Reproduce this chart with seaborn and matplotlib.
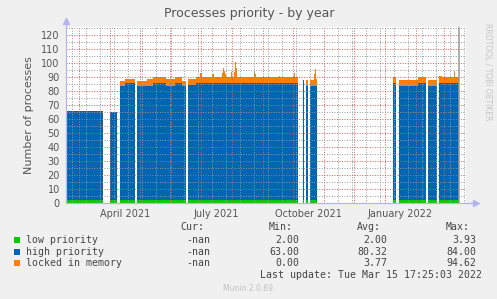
import numpy as np
import pandas as pd
import matplotlib
matplotlib.use("Agg")
import matplotlib.pyplot as plt
import matplotlib.dates as mdates
from matplotlib.patches import Rectangle
from matplotlib.ticker import MultipleLocator
import seaborn as sns

# ---------------- data (piecewise-constant runs) ----------------
run_start = ["2021-02-14", "2021-04-01", "2021-04-11", "2021-04-16",
             "2021-04-28", "2021-05-08", "2021-05-14", "2021-05-27", "2021-06-05", "2021-06-12",
             "2021-06-18", "2021-06-26", "2021-06-30", "2021-07-02", "2021-07-12", "2021-07-14",
             "2021-07-22", "2021-07-23", "2021-07-24", "2021-07-25", "2021-07-26", "2021-07-31",
             "2021-08-01", "2021-08-03", "2021-08-04", "2021-08-05", "2021-08-06", "2021-08-23",
             "2021-08-24", "2021-08-25", "2021-09-17", "2021-09-18", "2021-10-02", "2021-10-03",
             "2021-10-11", "2021-10-14", "2021-10-18", "2021-10-22", "2021-10-23", "2021-10-24",
             "2022-01-09", "2022-01-15", "2022-02-03", "2022-02-13",
             "2022-02-24", "2022-02-27", "2022-03-11", "2022-03-12"]
run_end = ["2021-03-25", "2021-04-08", "2021-04-16", "2021-04-26",
           "2021-05-08", "2021-05-14", "2021-05-27", "2021-06-05", "2021-06-12", "2021-06-16",
           "2021-06-26", "2021-06-30", "2021-07-02", "2021-07-12", "2021-07-14", "2021-07-22",
           "2021-07-23", "2021-07-24", "2021-07-25", "2021-07-26", "2021-07-31", "2021-08-01",
           "2021-08-03", "2021-08-04", "2021-08-05", "2021-08-06", "2021-08-23", "2021-08-24",
           "2021-08-25", "2021-09-17", "2021-09-18", "2021-10-02", "2021-10-03", "2021-10-06",
           "2021-10-12", "2021-10-16", "2021-10-22", "2021-10-23", "2021-10-24", "2021-10-25",
           "2022-01-12", "2022-02-03", "2022-02-11", "2022-02-22",
           "2022-02-27", "2022-03-11", "2022-03-12", "2022-03-15 17:25"]
low_priority = [2.0] * len(run_start)
high_priority = [64, 63, 82, 84,
                 82, 82, 84, 82, 84, 82,
                 82.5, 84, 84, 84, 84, 84,
                 84, 84, 84, 84, 84, 84,
                 84, 84, 84, 84, 84, 84,
                 84, 84, 84, 84, 84, 84,
                 86, 82, 82, 82, 82, 82,
                 84, 82, 84, 82,
                 84, 84, 84, 84]
locked_in_memory = [0, 0, 3.3, 3,
                    3.3, 4.5, 4, 4.5, 4, 3.5,
                    4, 4.3, 7.3, 4.3, 6, 4.3,
                    7, 10.4, 8.5, 6, 4.3, 8,
                    4.3, 8, 15, 11, 4.3, 8.7,
                    6, 4.3, 5, 4.3, 6.8, 4.3,
                    0, 4, 4, 8, 11.7, 5,
                    4, 4, 4, 4,
                    5, 4, 8.7, 4]

series_names = ["low priority", "high priority", "locked in memory"]
series_colors = ["#00CC00", "#0066B3", "#FF8000"]
stat_cur = ["-nan", "-nan", "-nan"]
stat_min = ["2.00", "63.00", "0.00"]
stat_avg = ["2.00", "80.32", "3.77"]
stat_max = ["3.93", "84.00", "94.62"]

month_label_dates = ["2021-04-16", "2021-07-16", "2021-10-16", "2022-01-16"]
month_labels = ["April 2021", "July 2021", "October 2021", "January 2022"]
y_ticks = list(range(0, 121, 10))

title = "Processes priority - by year"
ylabel = "Number of processes"
last_update = "Last update: Tue Mar 15 17:25:03 2022"
now_marker = "2022-03-15 17:25"

# ---------------- build stacked outlines ----------------
xs = []
layers = [[], [], []]
prev_end = None
for s, e, l, h, k in zip(run_start, run_end, low_priority, high_priority, locked_in_memory):
    s = pd.Timestamp(s); e = pd.Timestamp(e)
    if prev_end is not None and s != prev_end:
        xs.append(prev_end)
        for L in layers:
            L.append(np.nan)
    xs += [s, e]
    for L, v in zip(layers, (l, h, k)):
        L += [v, v]
    prev_end = e
xs = np.array(xs, dtype="datetime64[ns]")
vals = np.array(layers, dtype=float)
cum = np.vstack([np.zeros(vals.shape[1]), np.cumsum(vals, axis=0)])

# ---------------- figure ----------------
sns.set_theme(style="white")
plt.rcParams["font.family"] = ["DejaVu Sans"]

W, H = 497, 299
BG = "#F0F0F0"
fig = plt.figure(figsize=(W / 100, H / 100), dpi=100, facecolor=BG)

def fx(px):
    return px / W

def fy(py):
    return 1 - py / H

ax = fig.add_axes([fx(66), fy(203), fx(466) - fx(66), fy(27) - fy(203)])
ax.set_facecolor("white")

for i in range(3):
    ax.fill_between(xs, cum[i], cum[i + 1], color=series_colors[i], lw=0, zorder=1)

ax.axvline(pd.Timestamp(now_marker), color="#999999", lw=1.1, zorder=3)

x0 = pd.Timestamp("2021-02-16")
x1 = pd.Timestamp("2022-03-23")
ax.set_xlim(x0, x1)
ax.set_ylim(0, 126)

# grid
ax.xaxis.set_major_locator(mdates.MonthLocator())
ax.xaxis.set_minor_locator(mdates.WeekdayLocator(byweekday=mdates.MO, interval=2))
ax.xaxis.set_major_formatter(plt.NullFormatter())
ax.set_yticks(y_ticks)
ax.yaxis.set_minor_locator(MultipleLocator(5))
ax.set_axisbelow(False)
ax.grid(which="major", color=(0.9, 0.35, 0.35, 0.32), lw=0.7, ls=(0, (1, 1.6)))
ax.grid(which="minor", color=(0.6, 0.6, 0.6, 0.32), lw=0.7, ls=(0, (1, 1.6)))
ax.tick_params(axis="both", which="major", length=2.5, width=0.7, color=(0.9, 0.35, 0.35, 0.6),
               labelsize=7, labelcolor="#555555", pad=2)
ax.tick_params(axis="both", which="minor", length=1.5, width=0.6, color="#CCCCCC")
ax.tick_params(axis="x", which="major", labelbottom=False)

for sp in ax.spines.values():
    sp.set_visible(False)

axis_c = "#B4B4F0"
ax.plot([0, 1.02], [0, 0], transform=ax.transAxes, color=axis_c, lw=0.9, clip_on=False, zorder=4)
ax.plot([0, 0], [0, 1.03], transform=ax.transAxes, color=axis_c, lw=0.9, clip_on=False, zorder=4)
ax.plot([1.025], [0], marker=">", ms=4, color=axis_c, transform=ax.transAxes, clip_on=False, zorder=4)
ax.plot([0], [1.035], marker="^", ms=4, color=axis_c, transform=ax.transAxes, clip_on=False, zorder=4)

for d, t in zip(month_label_dates, month_labels):
    ax.text(pd.Timestamp(d), -4.5, t, ha="center", va="top", fontsize=7, color="#555555",
            clip_on=False)

ax.set_ylabel(ylabel, fontsize=8, color="#555555", labelpad=5)

fig.text(fx(249), fy(14), title, ha="center", va="center", fontsize=9, color="#555555")
fig.text(fx(488), fy(72), "RRDTOOL / TOBI OETIKER", rotation=-90, ha="center", va="center",
         fontsize=5.5, color="#C4C4C4")

# legend / stats
mono = "DejaVu Sans Mono"
fs = 7.1
tc = "#444444"
fig.text(fx(204), fy(227.5), "Cur:", ha="right", va="center", family=mono, fontsize=fs, color=tc)
fig.text(fx(292.5), fy(227.5), "Min:", ha="right", va="center", family=mono, fontsize=fs, color=tc)
fig.text(fx(381), fy(227.5), "Avg:", ha="right", va="center", family=mono, fontsize=fs, color=tc)
fig.text(fx(470), fy(227.5), "Max:", ha="right", va="center", family=mono, fontsize=fs, color=tc)
row_y = [239.7, 251.7, 263.3]
for i in range(3):
    y = row_y[i]
    fig.patches.append(Rectangle((fx(14), fy(y + 3)), fx(6), fy(y - 3) - fy(y + 3),
                                 transform=fig.transFigure, color=series_colors[i], lw=0))
    fig.text(fx(26.5), fy(y), series_names[i], ha="left", va="center", family=mono, fontsize=fs, color=tc)
    fig.text(fx(210.7), fy(y), stat_cur[i], ha="right", va="center", family=mono, fontsize=fs, color=tc)
    fig.text(fx(299), fy(y), stat_min[i], ha="right", va="center", family=mono, fontsize=fs, color=tc)
    fig.text(fx(387.7), fy(y), stat_avg[i], ha="right", va="center", family=mono, fontsize=fs, color=tc)
    fig.text(fx(476.7), fy(y), stat_max[i], ha="right", va="center", family=mono, fontsize=fs, color=tc)
fig.text(fx(482.3), fy(275.3), last_update, ha="right", va="center", family=mono, fontsize=fs, color=tc)
fig.text(fx(248), fy(288.3), "Munin 2.0.69", ha="center", va="center", fontsize=5.5, color="#C0C0C0")

fig.savefig("out.png", dpi=100, facecolor=BG)
